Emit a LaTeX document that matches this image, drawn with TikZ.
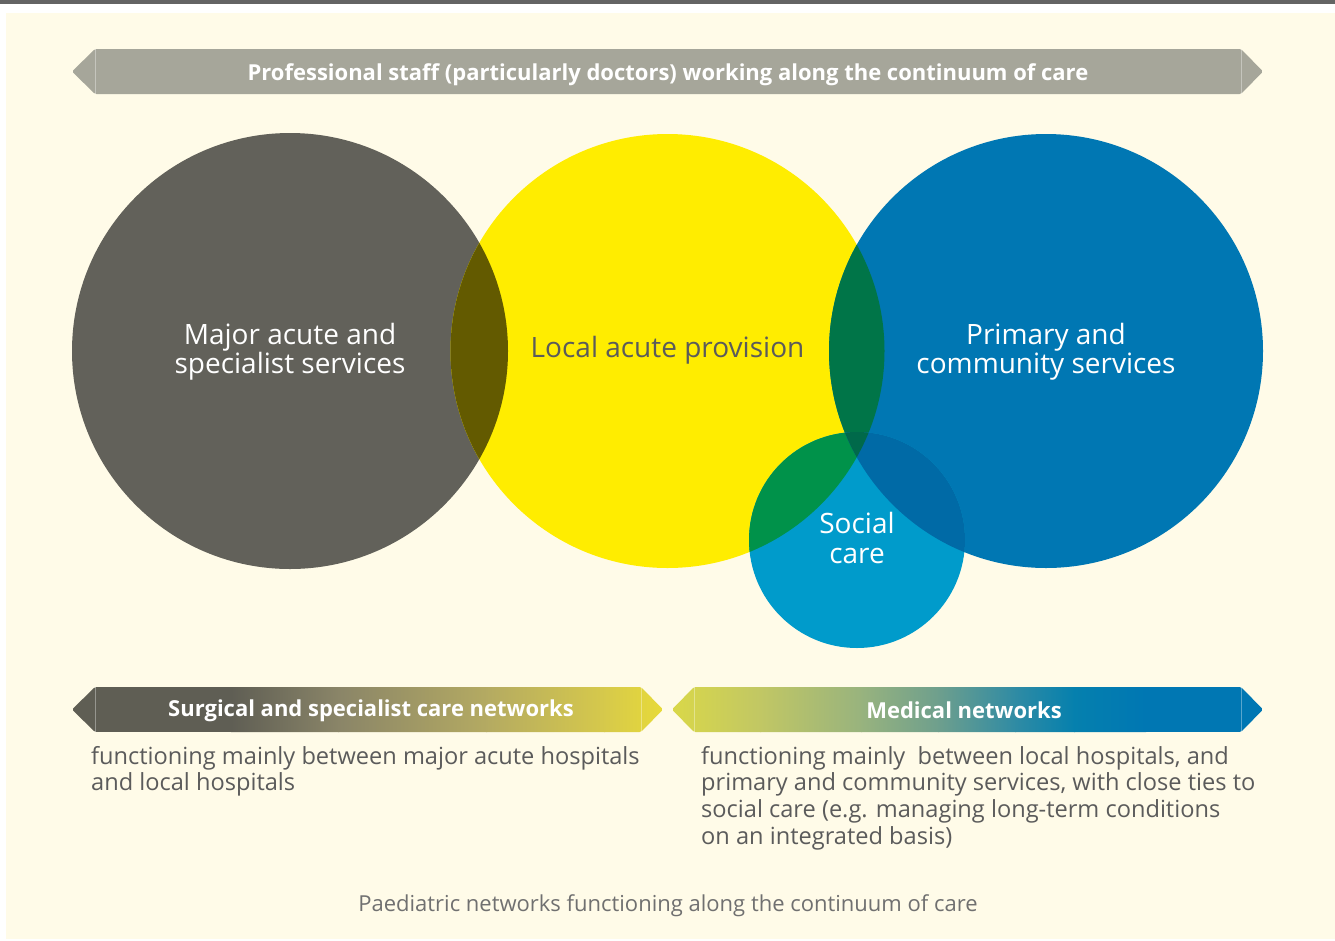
\documentclass[tikz,border=0pt]{standalone}
\usepackage{fontspec}
\setmainfont{Open Sans}
\definecolor{cream}{HTML}{FFFBE8}
\definecolor{topbar}{HTML}{646464}
\definecolor{bannergray}{HTML}{A6A69A}
\definecolor{circgray}{HTML}{62615A}
\definecolor{cyellow}{HTML}{FFED00}
\definecolor{cblue}{HTML}{0077B3}
\definecolor{csocial}{HTML}{009BCB}
\definecolor{gy}{HTML}{635A00}
\definecolor{yb}{HTML}{007548}
\definecolor{ys}{HTML}{00924A}
\definecolor{bs}{HTML}{006AA6}
\definecolor{tri}{HTML}{00694A}
\definecolor{txtgray}{HTML}{5B5B5B}
\definecolor{capgray}{HTML}{707070}
\definecolor{lA}{HTML}{5F5E54}
\definecolor{lB}{HTML}{8A8568}
\definecolor{lC}{HTML}{B4AA62}
\definecolor{lD}{HTML}{D6C94B}
\definecolor{lE}{HTML}{E8DB38}
\definecolor{rA}{HTML}{DAD848}
\definecolor{rB}{HTML}{C1C764}
\definecolor{rC}{HTML}{98B37E}
\definecolor{rD}{HTML}{6E9F8D}
\definecolor{rE}{HTML}{2F8BA4}
\definecolor{rF}{HTML}{0580AE}
\definecolor{rG}{HTML}{0077B3}
\tikzset{
  bannertext/.style={text=white, font=\bfseries\fontsize{22}{26}\selectfont, inner sep=0pt},
  circlabel/.style={align=center, inner sep=0pt, font=\fontsize{28}{29.5}\selectfont},
  bodytext/.style={align=left, anchor=north west, inner sep=0pt, text=txtgray, font=\fontsize{23.6}{26.6}\selectfont},
  captext/.style={inner sep=0pt, text=capgray, font=\fontsize{22}{26}\selectfont},
  sepline/.style={white, opacity=0.35, line width=0.8pt},
  circnode/.style={circle, inner sep=0pt, draw=none}
}
\begin{document}
\begin{tikzpicture}[x=1pt,y=-1pt]
\useasboundingbox (0,0) rectangle (1335,940);
\fill[white] (0,0) rectangle (1335,940);
\fill[topbar] (0,0) rectangle (1335,4);
\fill[cream] (6,13) rectangle (1335,939);

% top banner
\fill[bannergray, rounded corners=1.5pt] (72,71.5) -- (95,49) -- (1241,49) -- (1263,71.5) -- (1241,94) -- (95,94) -- cycle;
\draw[sepline] (95,49) -- (95,94) (1241,49) -- (1241,94);
\node[bannertext] (top) at (668,74.5) {Professional staff (particularly doctors) working along the continuum of care};

% circles
\node[circnode, fill=circgray, minimum size=436pt] (major) at (290,351) {};
\node[circnode, fill=cyellow, minimum size=434pt] (local) at (667.5,351) {};
\node[circnode, fill=cblue, minimum size=434pt] (primary) at (1046,351) {};
\begin{scope}
  \clip (290,351) circle (218);
  \fill[gy] (667.5,351) circle (217);
\end{scope}
\begin{scope}
  \clip (667.5,351) circle (217);
  \fill[yb] (1046,351) circle (217);
\end{scope}
\node[circnode, fill=csocial, minimum size=216pt] (social) at (857,540) {};
\begin{scope}
  \clip (857,540) circle (108);
  \fill[ys] (667.5,351) circle (217);
  \fill[bs] (1046,351) circle (217);
  \clip (667.5,351) circle (217);
  \fill[tri] (1046,351) circle (217);
\end{scope}

\node[circlabel, text=white] (majorlbl) at (290,351.5) {Major acute and\\specialist services};
\node[circlabel, text=txtgray] (locallbl) at (667.5,350) {Local acute provision};
\node[circlabel, text=white] (primarylbl) at (1046,351.5) {Primary and\\community services};
\node[circlabel, text=white] (sociallbl) at (857,538) {Social\\care};

% left bottom banner
\begin{scope}
  \clip[rounded corners=1.5pt] (72,709.5) -- (95,687) -- (641,687) -- (663,709.5) -- (641,732) -- (95,732) -- cycle;
  \fill[lA] (70,687) rectangle (232,732);
  \shade[left color=lA, right color=lB] (231,687) rectangle (339,732);
  \shade[left color=lB, right color=lC] (338,687) rectangle (487,732);
  \shade[left color=lC, right color=lD] (486,687) rectangle (605,732);
  \shade[left color=lD, right color=lE] (604,687) rectangle (665,732);
\end{scope}
\draw[sepline] (95,687) -- (95,732) (641,687) -- (641,732);
\node[bannertext] (surg) at (371,711) {Surgical and specialist care networks};

% right bottom banner
\begin{scope}
  \clip[rounded corners=1.5pt] (672,709.5) -- (694,687) -- (1241,687) -- (1263,709.5) -- (1241,732) -- (694,732) -- cycle;
  \shade[left color=rA, right color=rB] (670,687) rectangle (761,732);
  \shade[left color=rB, right color=rC] (760,687) rectangle (862,732);
  \shade[left color=rC, right color=rD] (861,687) rectangle (939,732);
  \shade[left color=rD, right color=rE] (938,687) rectangle (1016,732);
  \shade[left color=rE, right color=rF] (1015,687) rectangle (1075,732);
  \shade[left color=rF, right color=rG] (1074,687) rectangle (1146,732);
  \fill[rG] (1145,687) rectangle (1265,732);
\end{scope}
\draw[sepline] (694,687) -- (694,732) (1241,687) -- (1241,732);
\node[bannertext] (med) at (964,710) {Medical networks};

% descriptions
\node[bodytext] (ldesc) at (91,746) {functioning mainly between major acute hospitals\\and local hospitals};
\node[bodytext] (rdesc) at (701,746) {functioning mainly\ \ between local hospitals, and\\primary and community services, with close ties to\\social care (e.g. managing long-term conditions\\on an integrated basis)};

\node[captext] (cap) at (668,906) {Paediatric networks functioning along the continuum of care};
\end{tikzpicture}
\end{document}
